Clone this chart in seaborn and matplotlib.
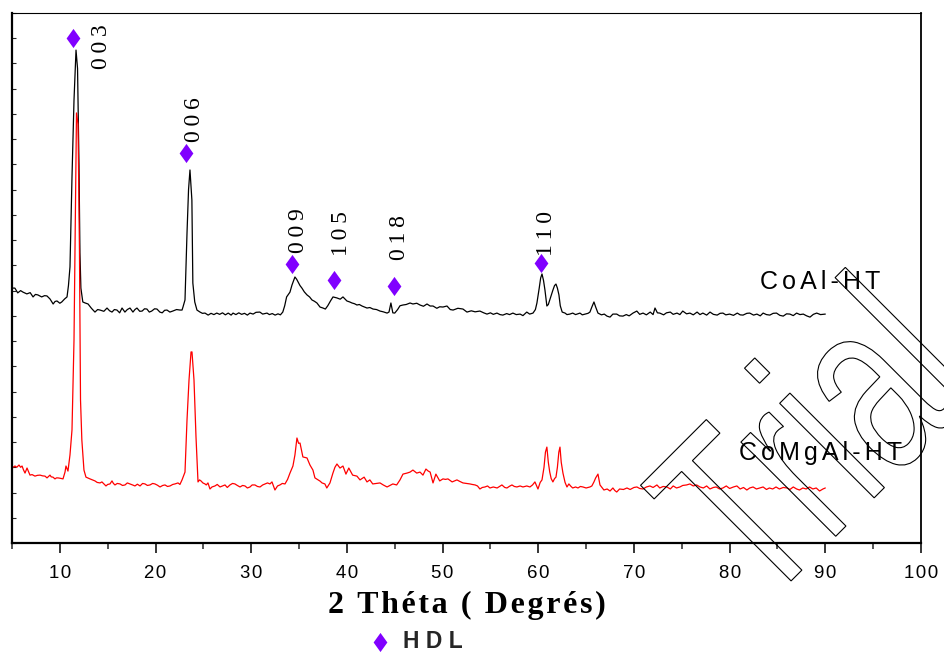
import numpy as np
import matplotlib
matplotlib.use("Agg")
import matplotlib.pyplot as plt
import seaborn as sns
from matplotlib.ticker import MultipleLocator
from matplotlib.markers import MarkerStyle
from matplotlib.textpath import TextPath
from matplotlib.patches import PathPatch
from matplotlib.transforms import Affine2D, IdentityTransform
from matplotlib.font_manager import FontProperties

# --- CoAl-HT (black) : 2 theta / intensite (u.a.)
coal_x = [5.0, 5.3, 5.6, 5.9, 6.15, 6.55, 6.9, 7.2, 7.45, 7.7, 8.1, 8.4, 8.65, 8.97, 9.3, 9.5, 9.7, 10.0, 10.2, 10.5,
          10.75, 10.9, 11.06, 11.27, 11.48, 11.69, 11.85, 12.0, 12.1, 12.2, 12.4, 12.65, 12.95, 13.3, 13.67, 13.95,
          14.2, 14.6, 14.93, 15.2, 15.45, 15.7, 15.97, 16.25, 16.5, 16.8, 17.05, 17.33, 17.64, 17.85, 18.06, 18.35,
          18.6, 18.85, 19.1, 19.35, 19.6, 19.9, 20.15, 20.45, 20.7, 20.95, 21.2, 21.5, 21.8, 22.2, 22.56, 22.77,
          22.87, 23.08, 23.29, 23.45, 23.6, 23.8, 23.9, 24.1, 24.33, 24.65, 24.9, 25.17, 25.5, 25.8, 26.1, 26.4,
          26.7, 27.0, 27.3, 27.6, 27.9, 28.1, 28.4, 28.7, 29.0, 29.3, 29.6, 29.87, 30.2, 30.5, 30.9, 31.2, 31.65,
          31.9, 32.2, 32.5, 32.8, 33.05, 33.3, 33.5, 33.7, 34.05, 34.26, 34.57, 34.75, 34.9, 35.1, 35.3, 35.55,
          35.83, 36.1, 36.35, 36.6, 36.87, 37.19, 37.5, 37.75, 38.0, 38.3, 38.55, 38.96, 39.3, 39.59, 40.0, 40.3,
          40.53, 40.8, 41.05, 41.3, 41.58, 41.85, 42.1, 42.4, 42.73, 43.1, 43.46, 43.8, 44.2, 44.4, 44.6, 44.8,
          45.0, 45.3, 45.55, 45.86, 46.2, 46.6, 46.9, 47.3, 47.64, 48.0, 48.37, 48.7, 49.0, 49.4, 49.7, 50.04,
          50.46, 50.8, 51.1, 51.6, 52.13, 52.55, 53.0, 53.4, 53.9, 54.3, 54.64, 55.0, 55.3, 55.68, 56.0, 56.3,
          56.7, 57.0, 57.35, 57.7, 58.1, 58.4, 58.8, 59.1, 59.45, 59.7, 59.86, 60.1, 60.25, 60.39, 60.55, 60.7,
          60.9, 61.05, 61.2, 61.53, 61.7, 61.85, 62.0, 62.16, 62.3, 62.5, 62.8, 63.0, 63.3, 63.6, 63.9, 64.36,
          64.6, 64.88, 65.2, 65.4, 65.6, 65.82, 66.0, 66.24, 66.6, 66.9, 67.18, 67.5, 67.8, 68.2, 68.5, 68.85,
          69.2, 69.5, 69.9, 70.3, 70.6, 70.95, 71.3, 71.7, 72.0, 72.2, 72.45, 72.7, 73.1, 73.4, 73.8, 74.1, 74.5,
          74.8, 75.1, 75.5, 75.85, 76.2, 76.6, 76.9, 77.2, 77.6, 77.95, 78.3, 78.7, 79.0, 79.3, 79.6, 80.0, 80.4,
          80.8, 81.1, 81.4, 81.8, 82.1, 82.5, 82.85, 83.2, 83.5, 83.85, 84.2, 84.55, 84.9, 85.25, 85.6, 85.95,
          86.3, 86.65, 87.0, 87.35, 87.7, 88.05, 88.4, 88.75, 89.1, 89.5, 90.0]
coal_y = [1010, 1010, 991, 1000, 994, 987, 992, 975, 985, 983, 975, 980, 979, 967, 947, 957, 959, 950, 955, 967,
          975, 1020, 1094, 1450, 1755, 1953, 1880, 1500, 1150, 1010, 955, 951, 947, 930, 915, 925,
          923, 918, 931, 920, 915, 925, 923, 912, 931, 915, 925, 931, 915, 925, 931, 918,
          919, 928, 927, 915, 919, 928, 927, 915, 912, 922, 923, 915, 919, 925, 923, 923,
          935, 963, 1228, 1400, 1478, 1359, 1030, 955, 923, 915, 910, 911, 903, 910, 905, 911,
          906, 912, 904, 911, 903, 911, 905, 912, 906, 910, 903, 911, 907, 914, 915, 907, 911,
          905, 909, 903, 908, 904, 915, 940, 975, 994, 1022, 1054, 1045, 1034, 1020, 1010, 995,
          983, 975, 963, 958, 951, 935, 931, 927, 940, 960, 975, 971, 966, 975, 959, 955,
          951, 948, 943, 945, 939, 935, 931, 933, 927, 925, 919, 916, 911, 915, 951, 912,
          911, 925, 940, 943, 945, 951, 947, 950, 943, 938, 947, 939, 939, 930, 936, 935,
          939, 925, 923, 930, 927, 915, 920, 916, 919, 912, 907, 912, 906, 911, 905, 903,
          909, 905, 911, 905, 907, 901, 915, 907, 911, 925, 951, 1010, 1050, 1066, 1040, 1002,
          939, 945, 963, 1002, 1020, 1026, 1010, 983, 940, 915, 911, 905, 907, 911, 905, 911,
          904, 907, 910, 915, 935, 955, 935, 911, 904, 907, 899, 895, 907, 907, 900, 899,
          905, 900, 911, 919, 906, 911, 904, 915, 905, 931, 912, 911, 904, 912, 915, 906, 911,
          905, 919, 908, 911, 904, 915, 905, 911, 903, 915, 906, 903, 910, 911, 904, 907, 902,
          911, 904, 903, 910, 911, 903, 907, 900, 911, 905, 903, 910, 911, 902, 899, 908,
          907, 901, 911, 905, 907, 900, 895, 906, 911, 905, 907]

# --- CoMgAl-HT (rouge)
comgal_x = [5.0, 5.31, 5.5, 5.73, 5.9, 6.05, 6.2, 6.36, 6.57, 6.7, 6.88, 7.1, 7.4, 7.65, 7.93, 8.2, 8.45, 8.66,
            8.97, 9.1, 9.28, 9.49, 9.65, 9.8, 10.1, 10.33, 10.54, 10.64, 10.85, 11.06, 11.27, 11.48, 11.64, 11.74,
            11.9, 12.05, 12.16, 12.3, 12.52, 12.73, 12.9, 13.15, 13.4, 13.67, 13.9, 14.2, 14.4, 14.61, 14.82, 15.0,
            15.24, 15.45, 15.6, 15.76, 16.0, 16.29, 16.55, 16.81, 17.05, 17.33, 17.6, 17.85, 18.1, 18.38, 18.65,
            18.9, 19.15, 19.42, 19.7, 19.94, 20.2, 20.47, 20.75, 20.99, 21.25, 21.51, 21.8, 22.03, 22.35, 22.55,
            22.77, 23.08, 23.29, 23.5, 23.71, 23.81, 24.02, 24.23, 24.44, 24.6, 24.75, 24.95, 25.17, 25.3, 25.48,
            25.69, 25.9, 26.21, 26.45, 26.74, 27.0, 27.26, 27.5, 27.78, 28.05, 28.3, 28.55, 28.83, 29.1, 29.35,
            29.6, 29.87, 30.1, 30.39, 30.65, 30.92, 31.2, 31.44, 31.7, 31.96, 32.17, 32.48, 32.75, 33.0, 33.25,
            33.53, 33.8, 34.05, 34.36, 34.57, 34.78, 34.95, 35.1, 35.4, 35.83, 36.14, 36.45, 36.66, 36.98, 37.2,
            37.4, 37.7, 37.9, 38.23, 38.54, 38.75, 38.96, 39.28, 39.59, 39.9, 40.2, 40.6, 41.05, 41.37, 41.8, 42.1,
            42.4, 42.7, 43.1, 43.46, 43.8, 44.2, 44.5, 44.8, 45.0, 45.2, 45.55, 45.86, 46.28, 46.6, 46.9, 47.3,
            47.64, 47.95, 48.26, 48.5, 48.7, 49.0, 49.3, 49.7, 50.04, 50.3, 50.56, 51.0, 51.5, 51.8, 52.13, 52.5,
            52.86, 53.1, 53.4, 53.65, 53.9, 54.15, 54.43, 54.7, 54.95, 55.3, 55.7, 56.0, 56.2, 56.5, 56.73, 57.0,
            57.25, 57.5, 57.77, 58.1, 58.4, 58.8, 59.13, 59.4, 59.65, 59.97, 60.2, 60.39, 60.6, 60.75, 60.9, 61.05,
            61.2, 61.35, 61.53, 61.7, 61.85, 62.0, 62.15, 62.27, 62.4, 62.58, 62.8, 63.0, 63.2, 63.4, 63.6, 63.9,
            64.15, 64.4, 64.67, 65.0, 65.4, 65.6, 65.82, 66.0, 66.24, 66.45, 66.65, 66.86, 67.2, 67.5, 67.8, 68.0,
            68.2, 68.5, 68.9, 69.27, 69.6, 70.0, 70.31, 70.6, 70.94, 71.3, 71.67, 72.0, 72.4, 72.7, 73.05, 73.45,
            73.8, 74.1, 74.45, 74.8, 75.1, 75.5, 75.85, 76.2, 76.55, 76.9, 77.25, 77.6, 77.94, 78.3, 78.6, 78.95,
            79.3, 79.65, 80.0, 80.4, 80.76, 81.1, 81.45, 81.8, 82.1, 82.45, 82.8, 83.17, 83.5, 83.85, 84.15, 84.5,
            84.85, 85.2, 85.6, 86.0, 86.3, 86.65, 87.0, 87.3, 87.65, 88.0, 88.35, 88.7, 89.05, 89.4, 89.75, 90.0]
comgal_y = [297, 305, 300, 309, 300, 305, 290, 277, 297, 285, 269, 271, 265, 268, 269, 266, 265, 258,
            269, 262, 261, 254, 258, 258, 256, 254, 281, 305, 285, 349, 448, 804, 1359, 1704,
            1660, 1161, 567, 408, 289, 261, 258, 254, 250, 246, 240, 238, 242, 234, 226, 232,
            234, 246, 236, 230, 236, 234, 228, 230, 238, 234, 230, 226, 233, 226, 236,
            234, 228, 230, 236, 234, 229, 222, 228, 230, 224, 226, 232, 234, 238, 232,
            250, 281, 487, 646, 757, 757, 646, 420, 242, 250, 246, 238, 234, 230, 238,
            214, 222, 226, 232, 222, 226, 230, 220, 230, 236, 234, 228, 222, 228, 226,
            218, 222, 230, 230, 224, 222, 230, 234, 238, 234, 242, 210, 226, 230, 236,
            234, 252, 277, 305, 349, 416, 395, 396, 341, 337, 309, 289, 258, 250, 245,
            238, 234, 218, 238, 277, 300, 313, 297, 305, 273, 297, 269, 265, 250, 261, 242,
            250, 234, 236, 238, 230, 222, 228, 234, 232, 230, 250, 273, 277, 281, 289, 277,
            281, 269, 293, 285, 281, 238, 273, 246, 254, 252, 254, 242, 250, 244, 238, 236,
            234, 232, 230, 226, 214, 220, 222, 226, 218, 222, 218, 225, 230, 220, 218, 225,
            230, 224, 222, 226, 222, 226, 222, 230, 242, 214, 240, 250, 300, 360, 380, 320,
            281, 255, 242, 255, 261, 300, 360, 380, 320, 277, 240, 222, 234, 225, 218, 222,
            218, 224, 222, 218, 222, 226, 242, 258, 273, 230, 220, 210, 214, 206, 218, 208,
            202, 214, 212, 218, 212, 220, 222, 216, 214, 222, 226, 220, 230, 218, 224, 222,
            214, 226, 218, 222, 228, 230, 234, 226, 230, 222, 218, 226, 214, 220, 222, 214,
            218, 226, 216, 222, 226, 214, 220, 210, 218, 222, 214, 218, 222, 212, 218, 214,
            222, 214, 220, 218, 212, 222, 214, 210, 218, 214, 222, 214, 218, 206, 214, 218]

# --- pics HDL (losanges) et indices hkl
hdl_x = [11.4, 23.2, 34.3, 38.65, 44.9, 60.3]
hdl_y = [2001, 1545, 1105, 1042, 1018, 1109]
hkl_labels = ["003", "006", "009", "105", "018", "110"]
hkl_x = [14.35, 24.1, 34.9, 39.4, 45.45, 60.9]
hkl_y = [1965, 1676, 1236, 1228, 1212, 1228]

sample_names = ["CoAl-HT", "CoMgAl-HT"]
sample_x = [89.5, 89.5]
sample_y = [1034, 357]

xticks = [10, 20, 30, 40, 50, 60, 70, 80, 90, 100]

SANS = ["Liberation Sans", "DejaVu Sans"]
SERIF = ["Liberation Serif", "DejaVu Serif"]
VIOLET = "#8000ff"


def spaced(s, gap):
    # espacement des lettres comme dans l'export Origin
    return gap.join(s)


sns.set_theme(style="white")
plt.rcParams["font.family"] = SANS

fig = plt.figure(figsize=(9.45, 6.55), dpi=100)
ax = fig.add_axes([12 / 945, 112 / 655, 909 / 945, 530 / 655])

sns.lineplot(x=coal_x, y=coal_y, color="black", lw=0.9, estimator=None, sort=False, ax=ax)
sns.lineplot(x=comgal_x, y=comgal_y, color="#ff0000", lw=0.9, estimator=None, sort=False, ax=ax)

losange = MarkerStyle([(0, 1), (0.72, 0), (0, -1), (-0.72, 0)])
sns.scatterplot(x=hdl_x, y=hdl_y, marker=losange, s=190, color=VIOLET, linewidth=0,
                label=spaced("HDL", " "), ax=ax, zorder=5)

for lab, x, y in zip(hkl_labels, hkl_x, hkl_y):
    ax.text(x, y, spaced(lab, "\u2009"), rotation=90, ha="center", va="center",
            fontsize=17, family=SERIF, color="black")

for lab, x, y in zip(sample_names, sample_x, sample_y):
    ax.text(x, y, spaced(lab, "\u2006"), ha="center", va="center", fontsize=18,
            family=SANS, color="black")

ax.set_xlim(5, 100)
ax.set_ylim(0, 2100)
ax.set_xticks(xticks)
ax.set_xticklabels([spaced(str(v), "\u200a") for v in xticks], fontsize=13.4, family=SANS)
ax.xaxis.set_minor_locator(MultipleLocator(5))
ax.set_yticks(np.arange(0, 2101, 100))
ax.set_yticklabels([])

ax.tick_params(axis="x", which="major", direction="out", length=7, width=1.1, pad=9, colors="black",
               bottom=True, top=False)
ax.tick_params(axis="x", which="minor", direction="out", length=4.5, width=1.1, bottom=True, top=False)
ax.tick_params(axis="y", which="major", direction="in", length=3, width=0.8, left=True, right=False)

for side, lw in [("left", 1.6), ("bottom", 1.6), ("right", 1.3), ("top", 0.8)]:
    ax.spines[side].set_visible(True)
    ax.spines[side].set_color("black")
    ax.spines[side].set_linewidth(lw)

ax.set_xlabel(spaced("2 Théta ( Degrés)", "\u200a"), fontsize=23, fontweight="bold", family=SERIF,
              color="black")
ax.xaxis.set_label_coords(0.5, -0.091)
ax.set_ylabel("")

ax.legend(loc="center left", bbox_to_anchor=(0.3696, -0.185), frameon=False, handletextpad=0.0,
          prop={"family": SANS, "weight": "bold", "size": 16.5}, borderaxespad=0)

# filigrane "Trial" (contour seul)
tp = TextPath((0, 0), "Trial", size=253, prop=FontProperties(family="Liberation Sans"))
tr = Affine2D().scale(0.65, 1.0).rotate_deg(45).translate(761, 655 - 611)
wm = PathPatch(tr.transform_path(tp), facecolor="none", edgecolor="black", lw=0.8,
               transform=IdentityTransform(), zorder=10)
fig.add_artist(wm)

fig.savefig("out.png", dpi=100)
